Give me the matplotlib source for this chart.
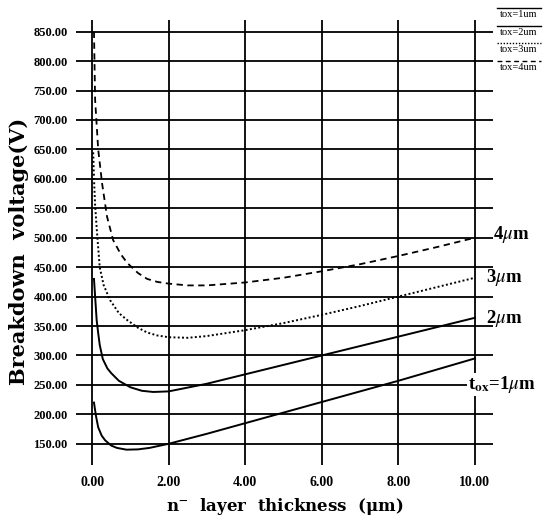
import matplotlib
matplotlib.use("Agg")
import matplotlib.pyplot as plt
from matplotlib.lines import Line2D

plt.rcParams['font.family'] = ['Liberation Serif', 'DejaVu Serif']
plt.rcParams['mathtext.fontset'] = 'stix'

# datos
x_ticks = [0, 2, 4, 6, 8, 10]
y_ticks = [150, 200, 250, 300, 350, 400, 450, 500, 550, 600, 650, 700, 750, 800, 850]

tox1_x = [0.05, 0.1, 0.16, 0.25, 0.34, 0.5, 0.65, 0.9, 1.2, 1.5, 2.0, 3.0, 4.0, 5.0, 6.0, 7.0, 8.0, 9.0, 10.0]
tox1_y = [220, 198, 178, 164, 156, 147, 143, 140, 140.5, 143, 150, 167, 185, 203, 221, 239, 257, 276, 295]

tox2_x = [0.05, 0.08, 0.12, 0.16, 0.2, 0.28, 0.4, 0.5, 0.7, 1.0, 1.3, 1.6, 2.0, 3.0, 4.0, 5.0, 6.0, 7.0, 8.0, 9.0, 10.0]
tox2_y = [430, 400, 360, 338, 318, 294, 278, 270, 257, 246, 240, 238, 239, 252, 268, 284, 300, 316, 332, 348, 364]

tox3_x = [0.03, 0.05, 0.08, 0.13, 0.2, 0.3, 0.47, 0.7, 0.92, 1.2, 1.44, 1.7, 2.0, 2.5, 3.0, 4.0, 5.0, 6.0, 7.0, 8.0, 9.0, 10.0]
tox3_y = [645, 600, 555, 508, 450, 420, 394, 372, 360, 347, 339, 334, 331, 330, 333, 343, 355, 369, 384, 400, 416, 432]

tox4_x = [0.05, 0.08, 0.16, 0.26, 0.39, 0.55, 0.75, 0.92, 1.2, 1.44, 1.7, 2.0, 2.5, 3.0, 4.0, 5.0, 6.0, 7.0, 8.0, 9.0, 10.0]
tox4_y = [850, 734, 650, 593, 536, 496, 472, 457, 440, 430, 425, 422, 419, 419, 424, 432, 443, 455, 469, 484, 500]

legend_labels = ['tox=1um', 'tox=2um', 'tox=3um', 'tox=4um']
curve_labels = ['4$\\mu$m', '3$\\mu$m', '2$\\mu$m', 't$_{\\mathbf{ox}}$=1$\\mu$m']

dotted = (0, (1, 1.2))
dashed = (0, (3.5, 2.5))
styles = ['-', '-', dotted, dashed]

fig = plt.figure(figsize=(5.53, 5.2), dpi=100)
ax = fig.add_axes([0.1374, 0.1058, 0.754, 0.856])
ax.set_xlim(-0.42, 10.47)
ax.set_ylim(114, 870)

# rejilla
for yv in y_ticks:
    ax.axhline(yv, color='black', lw=1.3, zorder=1)
for xv in x_ticks:
    ax.axvline(xv, color='black', lw=1.3, zorder=1)

ax.plot(tox1_x, tox1_y, color='black', lw=1.4, ls=styles[0], zorder=3)
ax.plot(tox2_x, tox2_y, color='black', lw=1.4, ls=styles[1], zorder=3)
ax.plot(tox3_x, tox3_y, color='black', lw=1.4, ls=styles[2], zorder=3)
ax.plot(tox4_x, tox4_y, color='black', lw=1.3, ls=styles[3], zorder=3)

for s in ax.spines.values():
    s.set_visible(False)

ax.set_xticks(x_ticks)
ax.set_xticklabels(['%.2f' % v for v in x_ticks], fontsize=10, fontweight='bold')
ax.set_yticks(y_ticks)
ax.set_yticklabels(['%.2f' % v for v in y_ticks], fontsize=9, fontweight='bold')
ax.tick_params(length=0)
ax.tick_params(axis='y', pad=6)
ax.tick_params(axis='x', pad=8)

lab_font = ['DejaVu Serif']
ax.set_ylabel('Breakdown  voltage(V)', fontsize=15, fontweight='bold', family=lab_font)
ax.yaxis.set_label_coords(-0.112, 0.48)
ax.set_xlabel('n$^{\\mathbf{-}}$  layer  thickness  (\u03bcm)', fontsize=12, fontweight='bold',
              family=lab_font, labelpad=5)

# etiquetas de las curvas
ax.text(10.47, 505, curve_labels[0], fontsize=13.5, fontweight='bold', va='center', ha='left')
ax.text(10.29, 433, curve_labels[1], fontsize=13.5, fontweight='bold', va='center', ha='left')
ax.text(10.29, 362, curve_labels[2], fontsize=13.5, fontweight='bold', va='center', ha='left')
ax.text(9.82, 251, curve_labels[3], fontsize=13.5, fontweight='bold', va='center', ha='left',
        bbox=dict(facecolor='white', edgecolor='none', pad=1), zorder=5)

# leyenda (linea encima del texto)
for i, (lab, st) in enumerate(zip(legend_labels, styles)):
    yl = 1 - (8 + i * 17.7) / 520
    fig.add_artist(Line2D([497 / 553, 541 / 553], [yl, yl], color='black', lw=1.0, ls=st,
                          transform=fig.transFigure))
    fig.text(519 / 553, yl - 2 / 520, lab, fontsize=7.5, ha='center', va='top')

fig.savefig('out.png', dpi=100)
